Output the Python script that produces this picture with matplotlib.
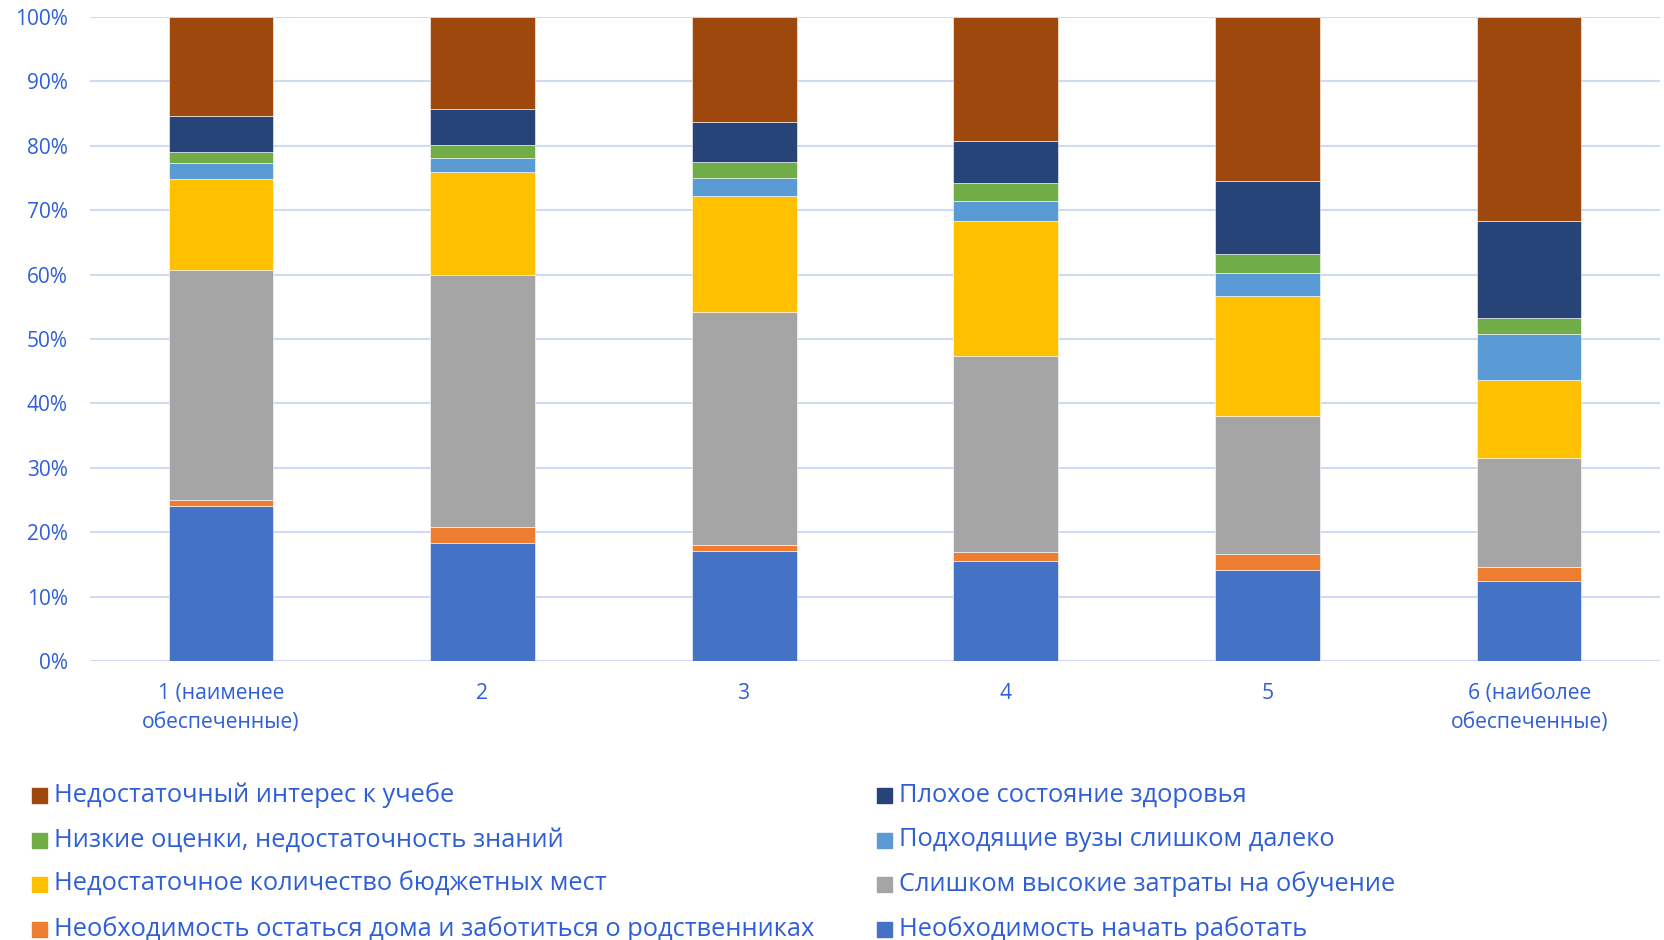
import numpy as np
import matplotlib
matplotlib.use("Agg")
import matplotlib.pyplot as plt
from matplotlib.patches import Rectangle
import matplotlib.ticker as ticker

# ── Data (shares, %) ─────────────────────────────────────────────────────────
groups = ["1 (наименее\nобеспеченные)", "2", "3", "4", "5", "6 (наиболее\nобеспеченные)"]

series_names = [
    "Необходимость начать работать",
    "Необходимость остаться дома и заботиться о родственниках",
    "Слишком высокие затраты на обучение",
    "Недостаточное количество бюджетных мест",
    "Подходящие вузы слишком далеко",
    "Низкие оценки, недостаточность знаний",
    "Плохое состояние здоровья",
    "Недостаточный интерес к учебе",
]
work      = [24.1, 18.4, 17.1, 15.6, 14.2, 12.5]
family    = [0.9,  2.4,  0.9,  1.3,  2.4,  2.1]
costs     = [35.7, 39.1, 36.2, 30.5, 21.4, 16.9]
budget    = [14.2, 16.1, 18.0, 21.0, 18.6, 12.1]
far_away  = [2.4,  2.1,  2.8,  3.0,  3.7,  7.2]
grades    = [1.8,  2.1,  2.5,  2.9,  2.9,  2.5]
health    = [5.5,  5.5,  6.2,  6.4,  11.4, 15.0]
interest  = [15.4, 14.3, 16.3, 19.3, 25.4, 31.7]

values = [work, family, costs, budget, far_away, grades, health, interest]
colors = ["#4472C4", "#ED7D31", "#A5A5A5", "#FFC000",
          "#5B9BD5", "#70AD47", "#264478", "#9E480E"]

TXT = "#2F5FD7"
plt.rcParams["font.family"] = ["Open Sans", "DejaVu Sans"]

# ── Plot ─────────────────────────────────────────────────────────────────────
fig = plt.figure(figsize=(16.65, 9.4), dpi=100)
ax = fig.add_axes([90 / 1665, 1 - 661 / 940, 1570 / 1665, 644 / 940])

x = np.arange(len(groups))
bottom = np.zeros(len(groups))
for vals, col in zip(values, colors):
    vals = np.array(vals)
    ax.bar(x, vals, width=0.4, bottom=bottom, color=col,
           edgecolor="#ffffff", linewidth=0.4, zorder=3)
    bottom += vals

ax.set_xlim(-0.5, len(groups) - 0.5)
ax.set_ylim(0, 100)
ax.set_yticks(np.arange(0, 101, 10))
ax.yaxis.set_major_formatter(ticker.FuncFormatter(lambda v, _: f"{v:.0f}%"))
ax.set_xticks(x)
ax.set_xticklabels(groups, linespacing=1.5)
ax.tick_params(axis="y", length=0, pad=16, labelsize=15, labelcolor=TXT)
ax.tick_params(axis="x", length=0, pad=16, labelsize=15.2, labelcolor=TXT)
ax.grid(axis="y", color="#D0DAF2", linewidth=1.5, zorder=0)
for s in ax.spines.values():
    s.set_visible(False)

# ── Legend (2 columns, row-major, reversed series order) ─────────────────────
order = list(range(len(series_names)))[::-1]
col_x = [32, 877]
row_y = [795, 840, 884, 929]
for i, k in enumerate(order):
    c, r = i % 2, i // 2
    px, py = col_x[c], row_y[r]
    fig.add_artist(Rectangle((px / 1665, 1 - (py + 8) / 940), 15 / 1665, 15 / 940,
                             transform=fig.transFigure, color=colors[k]))
    fig.text((px + 22) / 1665, 1 - py / 940, series_names[k],
             color=TXT, fontsize=18.3, va="center", ha="left")

fig.savefig("out.png", dpi=100)
